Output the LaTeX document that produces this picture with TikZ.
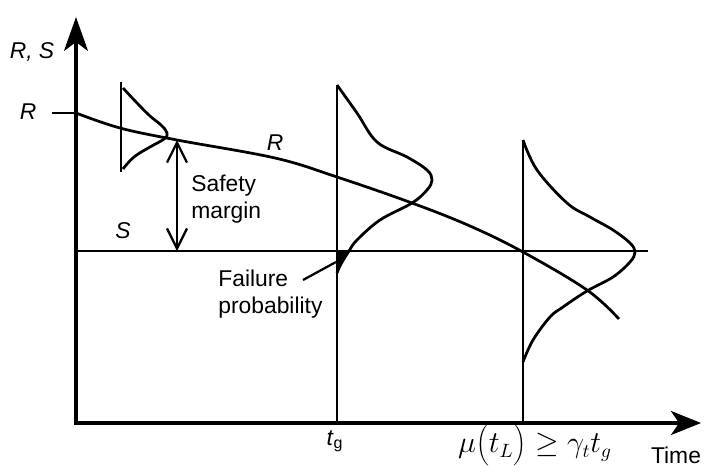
\documentclass[tikz,border=0pt]{standalone}
\usepackage{fontspec}
\setsansfont{Liberation Sans}
\usetikzlibrary{arrows.meta}

\begin{document}
\begin{tikzpicture}[
  x=0.02cm, y=-0.02cm,
  axis/.style={line width=0.65mm, {Stealth[length=6.8mm, width=4.8mm, inset=1.8mm]}-{Stealth[length=6mm, width=4.8mm, inset=1.6mm]}},
  curve/.style={line width=0.55mm, line join=round},
  guide/.style={line width=0.45mm},
  dim/.style={line width=0.45mm, {Straight Barb[length=4mm, width=4mm]}-{Straight Barb[length=4mm, width=4mm]}},
  lbl/.style={font=\sffamily\fontsize{13}{15.5}\selectfont, inner sep=0pt},
  var/.style={font=\sffamily\itshape\fontsize{13}{15.5}\selectfont, inner sep=0pt}
]
  \useasboundingbox (0,0) rectangle (704,471);

  % axes
  \coordinate (origin) at (76,423);
  \coordinate (ytip) at (76,17);
  \coordinate (xtip) at (701,423);
  \draw[axis] (ytip) -- (origin) -- (xtip);
  \node[var] (rs) at (32,52) {R, S};
  \node[lbl] (time) at (676,455) {Time};

  % resistance R and load S
  \coordinate (rstart) at (76,113);
  \coordinate (rtick) at (52,113);
  \node[var] (rleft) at (28,112) {R};
  \draw[guide] (rtick) -- (rstart);
  \draw[curve] plot[smooth, tension=0.6] coordinates {(76,113) (120,128) (177,140) (275,158) (337,177) (412,203) (470,226) (523,252) (587,290) (619,319)};
  \node[var] (rcurve) at (275,143) {R};
  \coordinate (sstart) at (76,251);
  \coordinate (send) at (648,251);
  \draw[guide] (sstart) -- (send);
  \node[var] (slabel) at (123,231) {S};

  % distributions of R at three times
  \coordinate (d1top) at (121,82);
  \coordinate (d1bot) at (121,172);
  \draw[guide] (d1top) -- (d1bot);
  \draw[curve] plot[smooth, tension=0.7] coordinates {(123,88) (137,103) (150,116) (161,125) (167,133) (164,139) (150,147) (134,157) (123,169)};

  \coordinate (d2top) at (337,85);
  \coordinate (tgfoot) at (337,423);
  \draw[guide] (d2top) -- (tgfoot);
  \draw[curve] plot[smooth, tension=0.6] coordinates {(337,85) (357,113) (377,142) (407,157) (427,170) (432,180) (427,190) (412,203) (380,220) (357,240) (349,251) (341,264) (337,273)};
  \fill (337,251) -- (349,251) .. controls (343,258) and (339,266) .. (337,273) -- cycle;

  \coordinate (d3top) at (523,140);
  \coordinate (tlfoot) at (523,423);
  \draw[guide] (d3top) -- (tlfoot);
  \draw[curve] plot[smooth, tension=0.6] coordinates {(523,140) (537,170) (567,203) (590,217) (613,230) (630,243) (635,252) (630,262) (613,277) (587,291) (563,307) (550,317) (533,340) (523,362)};

  % safety margin
  \coordinate (smtop) at (177,140);
  \coordinate (smbot) at (177,251);
  \draw[dim] (smtop) -- (smbot);
  \node[lbl, align=left, anchor=west] (margin) at (191,199) {Safety\\margin};

  % failure probability
  \node[lbl, align=left, anchor=west] (fail) at (218,294) {Failure\\probability};
  \coordinate (failfrom) at (303,280);
  \coordinate (failspot) at (336,262);
  \draw[guide] (failfrom) -- (failspot);

  % time labels
  \node[lbl] (tg) at (335,441) {\textit{t}\textsubscript{g}};
  \node[inner sep=0pt] (tl) at (535,445) {\fontsize{16}{19}\selectfont$\mu\biggl(t_L\biggr)\geq\gamma_t t_g$};
\end{tikzpicture}
\end{document}
